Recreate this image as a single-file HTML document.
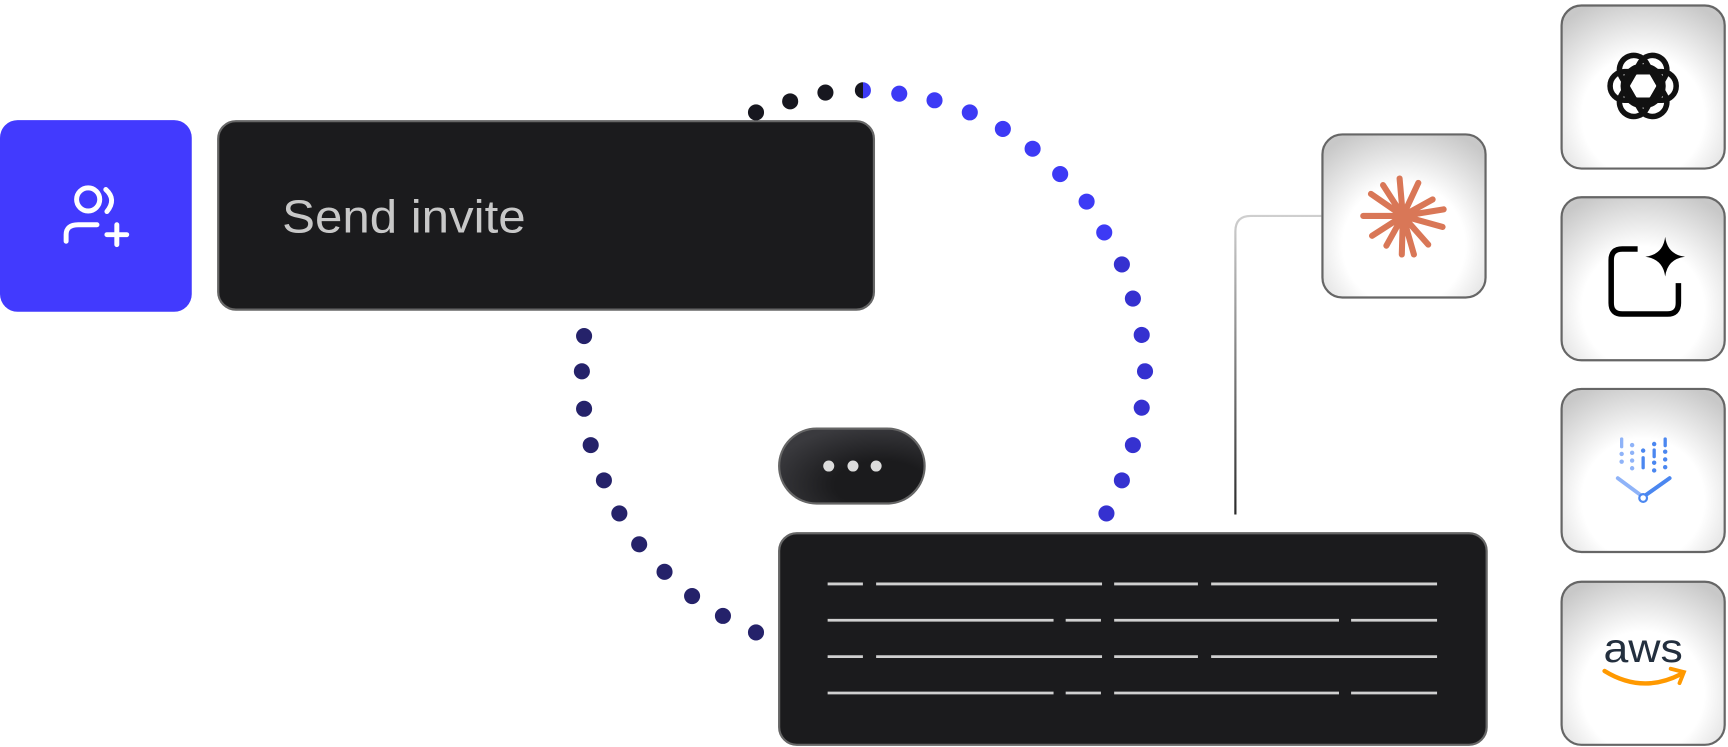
<!DOCTYPE html>
<html><head><meta charset="utf-8"><style>html,body{margin:0;padding:0;background:#fff;overflow:hidden}svg{display:block}</style></head>
<body>
<svg width="1728" height="747" viewBox="0 0 1568 678" preserveAspectRatio="none" xmlns="http://www.w3.org/2000/svg">
<defs>
<radialGradient id="wg" cx="50%" cy="68%" r="75%"><stop offset="0.5" stop-color="#ffffff"/><stop offset="1" stop-color="#c8c8c8"/></radialGradient>
<linearGradient id="cg" x1="0" y1="0" x2="0" y2="1"><stop offset="0" stop-color="#cfcfcf"/><stop offset="1" stop-color="#2a2a2a"/></linearGradient>
<radialGradient id="pg" cx="70%" cy="75%" r="80%"><stop offset="0.4" stop-color="#1b1b1d"/><stop offset="1" stop-color="#3a3a3e"/></radialGradient>
<linearGradient id="half"><stop offset="0.5" stop-color="#17171f"/><stop offset="0.5" stop-color="#3d3af5"/></linearGradient>
</defs>
<rect x="0" y="109" width="174" height="174" rx="16" fill="#423afe"/>
<g fill="none" stroke="#fff" stroke-width="4.5" stroke-linecap="round">
<circle cx="80" cy="181" r="10.5"/>
<path d="M96,172 Q106,181 97,192"/>
<path d="M60,219 V213 Q60,204 71,204 H88"/>
<path d="M106,204 V222 M97,213 H115"/>
</g>
<rect x="198" y="110" width="595" height="171" rx="16" fill="#1b1b1d" stroke="#666" stroke-width="2"/>
<text x="256" y="211" font-family="Liberation Sans, sans-serif" font-size="42" fill="#c8c8c8" textLength="221" lengthAdjust="spacingAndGlyphs">Send invite</text>
<g fill="#17171f"><circle cx="686" cy="102" r="7.3"/><circle cx="717" cy="92" r="7.3"/><circle cx="749" cy="84" r="7.3"/></g>
<circle cx="783" cy="82" r="7.3" fill="url(#half)"/>
<g fill="#3d3af5"><circle cx="816" cy="85" r="7.3"/><circle cx="848" cy="91" r="7.3"/><circle cx="880" cy="102" r="7.3"/><circle cx="910" cy="117" r="7.3"/><circle cx="937" cy="135" r="7.3"/><circle cx="962" cy="158" r="7.3"/><circle cx="986" cy="183" r="7.3"/><circle cx="1002" cy="211" r="7.3"/></g>
<g fill="#3531d0"><circle cx="1018" cy="240" r="7.3"/><circle cx="1028" cy="271" r="7.3"/><circle cx="1036" cy="304" r="7.3"/><circle cx="1039" cy="337" r="7.3"/><circle cx="1036" cy="370" r="7.3"/><circle cx="1028" cy="404" r="7.3"/><circle cx="1018" cy="436" r="7.3"/><circle cx="1004" cy="466" r="7.3"/></g>
<g fill="#25226a"><circle cx="530" cy="305" r="7.3"/><circle cx="528" cy="337" r="7.3"/><circle cx="530" cy="371" r="7.3"/><circle cx="536" cy="404" r="7.3"/><circle cx="548" cy="436" r="7.3"/><circle cx="562" cy="466" r="7.3"/><circle cx="580" cy="494" r="7.3"/><circle cx="603" cy="519" r="7.3"/><circle cx="628" cy="541" r="7.3"/><circle cx="656" cy="559" r="7.3"/><circle cx="686" cy="574" r="7.3"/></g>
<rect x="707" y="389" width="132" height="68" rx="34" fill="url(#pg)" stroke="#666" stroke-width="2"/>
<g fill="#dcdcdc"><circle cx="752" cy="423" r="5"/><circle cx="774" cy="423" r="5"/><circle cx="795" cy="423" r="5"/></g>
<path d="M1199,196 H1135 Q1121,196 1121,210 V467" fill="none" stroke="url(#cg)" stroke-width="2"/>
<rect x="707" y="484" width="642" height="192" rx="16" fill="#1b1b1d" stroke="#666" stroke-width="2"/>
<g stroke="#d0d0d0" stroke-width="2.5">
<path d="M751,530H783M795,530H1000M1011,530H1087M1099,530H1304"/>
<path d="M751,563H956M967,563H999M1011,563H1215M1226,563H1304"/>
<path d="M751,596H783M795,596H1000M1011,596H1087M1099,596H1304"/>
<path d="M751,629H956M967,629H999M1011,629H1215M1226,629H1304"/>
</g>
<rect x="1200" y="122" width="148" height="148" rx="18" fill="url(#wg)" stroke="#666" stroke-width="2"/>
<g stroke="#d97757" stroke-width="5.5" stroke-linecap="round">
<path d="M1273,196 L1270,162 M1273,196 L1287,166 M1273,196 L1300,181 M1273,196 L1310,190 M1273,196 L1309,206 M1273,196 L1296,222 M1273,196 L1283,231 M1273,196 L1272,231 M1273,196 L1258,223 M1273,196 L1245,214 M1273,196 L1237,196 M1273,196 L1244,176 M1273,196 L1255,168"/>
</g>
<g stroke="#666" stroke-width="2">
<rect x="1417" y="5" width="148" height="148" rx="18" fill="url(#wg)"/>
<rect x="1417" y="179" width="148" height="148" rx="18" fill="url(#wg)"/>
<rect x="1417" y="353" width="148" height="148" rx="18" fill="url(#wg)"/>
<rect x="1417" y="528" width="148" height="148" rx="18" fill="url(#wg)"/>
</g>
<g fill="none" stroke="#111" stroke-width="5" transform="translate(1491,78)">
<rect x="-30" y="-13" width="48" height="26" rx="13"/>
<rect x="-30" y="-13" width="48" height="26" rx="13" transform="rotate(60)"/>
<rect x="-30" y="-13" width="48" height="26" rx="13" transform="rotate(120)"/>
<rect x="-30" y="-13" width="48" height="26" rx="13" transform="rotate(180)"/>
<rect x="-30" y="-13" width="48" height="26" rx="13" transform="rotate(240)"/>
<rect x="-30" y="-13" width="48" height="26" rx="13" transform="rotate(300)"/>
</g>
<path d="M1486,226 H1472 Q1462,226 1462,236 V275 Q1462,285 1472,285 H1513 Q1523,285 1523,275 V257" fill="none" stroke="#000" stroke-width="5"/>
<path d="M1511,215 Q1513,231 1529,233 Q1513,235 1511,251 Q1509,235 1493,233 Q1509,231 1511,215Z" fill="#000"/>
<g fill="#8fb3f8">
<rect x="1470" y="397" width="3" height="10" rx="1.5"/><circle cx="1471.5" cy="412" r="2"/><circle cx="1471.5" cy="419" r="2"/>
<circle cx="1481" cy="404" r="2"/><circle cx="1481" cy="411" r="2"/><circle cx="1481" cy="418" r="2"/><circle cx="1481" cy="425" r="2"/>
</g>
<g fill="#4b87f0">
<circle cx="1491" cy="409" r="2"/><rect x="1489.5" y="414" width="3" height="12" rx="1.5"/>
<circle cx="1501" cy="403" r="2"/><rect x="1499.5" y="407" width="3" height="9" rx="1.5"/><circle cx="1501" cy="420" r="2"/><circle cx="1501" cy="427" r="2"/>
<rect x="1509.5" y="397" width="3" height="9" rx="1.5"/><circle cx="1511" cy="410" r="2"/><circle cx="1511" cy="417" r="2"/><circle cx="1511" cy="424" r="2"/>
</g>
<path d="M1468,434 L1491,451 L1515,434" fill="none" stroke="#8fb3f8" stroke-width="3.5" stroke-linecap="round"/>
<path d="M1491,451 L1515,434" fill="none" stroke="#4b87f0" stroke-width="3.5" stroke-linecap="round"/>
<circle cx="1491" cy="452" r="3.5" fill="#fff" stroke="#4b87f0" stroke-width="2"/>
<text x="1491" y="601" text-anchor="middle" font-family="Liberation Sans, sans-serif" font-size="37" fill="#232f3e" textLength="72" lengthAdjust="spacingAndGlyphs">aws</text>
<path d="M1456,609 Q1490,630 1525,612" fill="none" stroke="#ff9900" stroke-width="4" stroke-linecap="round"/>
<path d="M1516,607 L1528,610 L1524,620" fill="none" stroke="#ff9900" stroke-width="3.5" stroke-linecap="round"/>
</svg>
</body></html>
